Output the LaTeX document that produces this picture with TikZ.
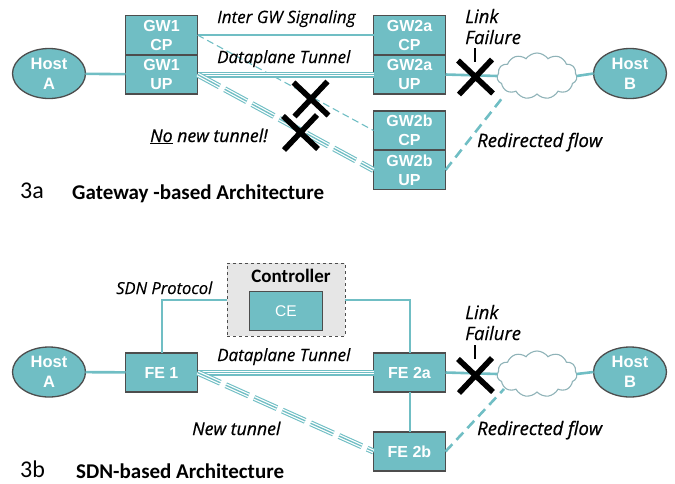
\documentclass[tikz,border=0pt]{standalone}
\usepackage{fontspec}
\setmainfont{Liberation Sans}
\newfontfamily\lblfont[FakeBold=0.25]{Open Sans}
\newfontfamily\lblboldfont[FakeBold=0.7]{Open Sans}
\newfontfamily\capfont{Carlito}
\usetikzlibrary{shapes.symbols,shapes.geometric}
\definecolor{tl}{RGB}{112,190,196}
\definecolor{bd}{HTML}{4D4D4D}
\definecolor{cloudc}{HTML}{8FB3B8}
\definecolor{ctrl}{HTML}{E6E6E6}
\tikzset{
  netbox/.style={draw=bd,line width=1.4pt,fill=tl,minimum width=72pt,minimum height=39pt,inner sep=0pt,outer sep=0pt,
    text=white,font=\fontsize{16}{19}\selectfont\bfseries,align=center},
  host/.style={draw=bd,line width=1.3pt,fill=tl,ellipse,minimum width=73pt,minimum height=50pt,inner sep=0pt,outer sep=0pt,
    text=white,font=\fontsize{16.5}{20}\selectfont\bfseries,align=center},
  lnk/.style={color=tl,line width=2.6pt},
  siglnk/.style={color=tl,line width=2pt},
  thinlnk/.style={color=tl,line width=2pt},
  sig/.style={color=tl,line width=1.1pt,dash pattern=on 7pt off 4pt},
  redir/.style={color=tl,line width=2.6pt,dash pattern=on 10pt off 6pt},
  tunnel/.style={color=tl,line width=6pt,postaction={draw=white,line width=3.8pt},postaction={draw=tl,line width=1.3pt}},
  dashtunnel/.style={tunnel,dash pattern=on 25pt off 6pt},
  lbl/.style={anchor=base west,inner sep=0pt,font=\lblfont\fontsize{17}{20}\selectfont\itshape},
  lblb/.style={anchor=base west,inner sep=0pt,font=\lblboldfont\fontsize{17.7}{20}\selectfont\itshape},
  lblw/.style={anchor=base west,inner sep=0pt,font=\lblboldfont\fontsize{18.5}{20}\selectfont\itshape},
  lblf/.style={anchor=base west,inner sep=0pt,font=\lblfont\fontsize{18.5}{20}\selectfont\itshape},
  captxt/.style={anchor=base west,inner sep=0pt,font=\capfont\fontsize{21}{24}\selectfont\bfseries},
  numtxt/.style={anchor=base west,inner sep=0pt,font=\capfont\fontsize{24}{26}\selectfont},
  cloudy/.style={cloud,cloud puffs=11,cloud puff arc=110,aspect=1.8,draw=cloudc,line width=1.1pt,fill=white,minimum width=80pt,minimum height=46pt,inner sep=0pt,outer sep=0pt},
  xmark/.pic={\draw[black,line width=5.6pt] (-17,-16)--(18,17) (-16,18)--(17,-17);},
}
\begin{document}
\begin{tikzpicture}[x=1pt,y=-1pt]
\useasboundingbox (0,0) rectangle (675,483);
% ---------- 3a
\node[host] (hostA) at (49,73.5) {Host\\A};
\node[host] (hostB) at (630,73.5) {Host\\B};
\node[netbox] (gw1cp) at (161.5,35) {GW1\\CP};
\node[netbox] (gw1up) at (161.5,74.5) {GW1\\UP};
\node[netbox] (gw2acp) at (409.5,35) {GW2a\\CP};
\node[netbox] (gw2aup) at (409.5,74.5) {GW2a\\UP};
\node[netbox] (gw2bcp) at (409.5,130.5) {GW2b\\CP};
\node[netbox] (gw2bup) at (409.5,170) {GW2b\\UP};
\node[cloudy] (cloudA) at (537,76) {};
\draw[lnk] (hostA) -- (gw1up);
\draw[siglnk] (gw1cp.east) -- (gw2acp.west);
\draw[sig] (gw1cp.east) -- (gw2bcp.west);
\draw[tunnel] (gw1up.east) -- (gw2aup.west);
\draw[dashtunnel] (gw1up.east) -- (gw2bup.west);
\draw[lnk] (gw2aup.east) -- (cloudA.west);
\draw[lnk] (cloudA.east) -- (hostB.west);
\coordinate (redirA) at (503,97);
\draw[redir] (gw2bup.east) -- (redirA);
\coordinate (tickAt) at (475,48);
\coordinate (tickAb) at (475,62);
\draw[black,line width=1.2pt] (tickAt) -- (tickAb);
\pic at (310.5,98.5) {xmark};
\pic at (300,132) {xmark};
\pic at (475,76.5) {xmark};
\node[lbl] (tInter) at (217,23) {Inter GW Signaling};
\node[lbl] (tData) at (217,63) {Dataplane Tunnel};
\node[lblf] (tLink) at (465,23) {Link};
\node[lblf] (tFail) at (465,44) {Failure};
\node[lblb] (tNo) at (150,142) {\underline{No} new tunnel!};
\node[lblw] (tRedirA) at (477,147) {Redirected flow};
\node[numtxt] (n3a) at (20,198) {3a};
\node[captxt] (capA) at (72,199) {Gateway -based Architecture};
% ---------- 3b
\node[draw=bd,dashed,line width=.7pt,fill=ctrl,minimum width=118pt,minimum height=73pt,inner sep=0pt,outer sep=0pt] (ctrlbox) at (286,299.5) {};
\node[anchor=base,inner sep=0pt,font=\capfont\fontsize{19}{22}\selectfont\bfseries] (ctrltxt) at (291,282) {Controller};
\node[netbox,font=\fontsize{15.5}{18}\selectfont,minimum width=73pt,minimum height=39pt] (ce) at (286,311) {CE};
\node[host] (hostA2) at (49,372) {Host\\A};
\node[host] (hostB2) at (630,372) {Host\\B};
\node[netbox] (fe1) at (161.5,372.5) {FE 1};
\node[netbox] (fe2a) at (409.5,372.5) {FE 2a};
\node[netbox] (fe2b) at (409.5,451.5) {FE 2b};
\node[cloudy] (cloudB) at (537,374) {};
\draw[lnk] (hostA2) -- (fe1);
\draw[thinlnk] (fe1.north) |- (ctrlbox.west);
\draw[thinlnk] (ctrlbox.east) -| (fe2a.north);
\draw[thinlnk] (fe2a) -- (fe2b);
\draw[tunnel] (fe1.east) -- (fe2a.west);
\draw[dashtunnel] (fe1.east) -- (fe2b.west);
\draw[lnk] (fe2a.east) -- (cloudB.west);
\draw[lnk] (cloudB.east) -- (hostB2.west);
\coordinate (redirB) at (504,389);
\draw[redir] (fe2b.east) -- (redirB);
\coordinate (tickBt) at (475,345);
\coordinate (tickBb) at (475,359);
\draw[black,line width=1.2pt] (tickBt) -- (tickBb);
\pic at (475,375) {xmark};
\node[lbl,font=\lblfont\fontsize{16.5}{20}\selectfont\itshape] (tSdn) at (116,294) {SDN Protocol};
\node[lbl] (tData2) at (217,361) {Dataplane Tunnel};
\node[lblf] (tLink2) at (465,319) {Link};
\node[lblf] (tFail2) at (465,340) {Failure};
\node[lblb] (tNew) at (192,435) {New tunnel};
\node[lblw] (tRedirB) at (477,435) {Redirected flow};
\node[numtxt] (n3b) at (20,477) {3b};
\node[captxt] (capB) at (76,478) {SDN-based Architecture};
\end{tikzpicture}
\end{document}
